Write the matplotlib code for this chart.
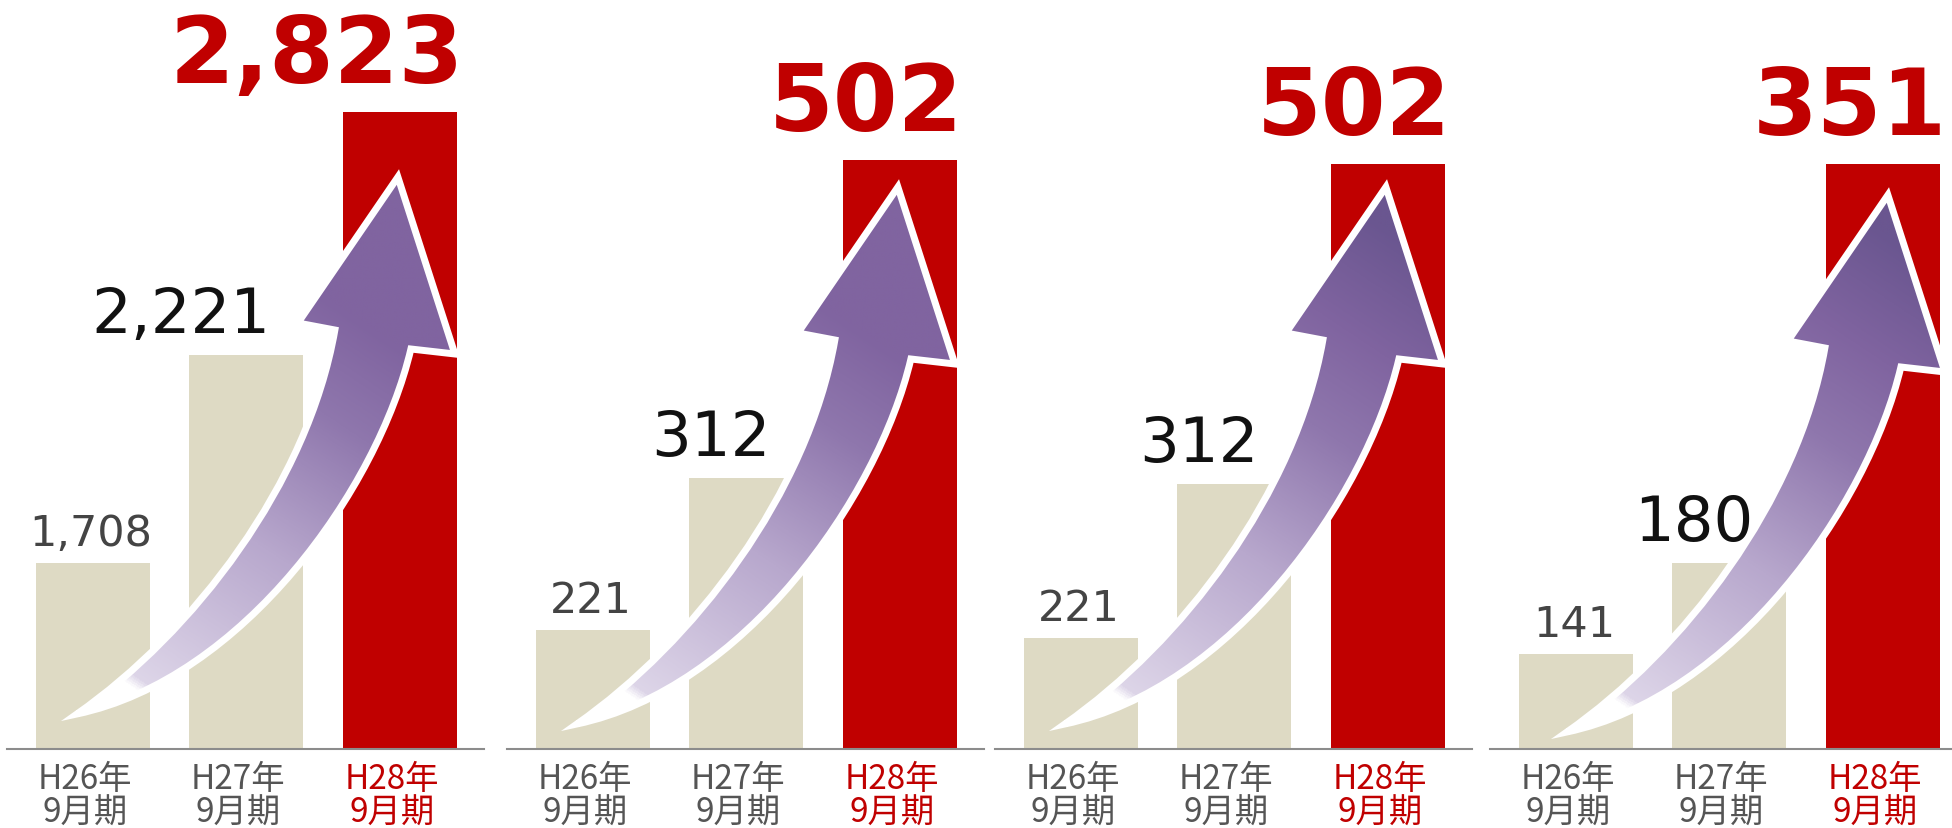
import numpy as np
import matplotlib
matplotlib.use("Agg")
import matplotlib.pyplot as plt
from matplotlib.path import Path
from matplotlib.patches import PathPatch
from matplotlib.colors import LinearSegmentedColormap
from matplotlib.transforms import ScaledTranslation

# data
periods = ["H26年\n9月期", "H27年\n9月期", "H28年\n9月期"]
panel1 = [1708, 2221, 2823]
panel2 = [221, 312, 502]
panel3 = [221, 312, 502]
panel4 = [141, 180, 351]
panels = [panel1, panel2, panel3, panel4]

# per-panel value axis range (the bars do not start at zero)
y_floor = [1248, 150, 155, 100]
y_ceil = [3102, 598, 600, 422]

BEIGE = "#dedac4"
RED = "#c00000"
GRAY_TXT = "#555555"
CJK = ["Noto Sans CJK JP", "DejaVu Sans"]

W, H = 1952, 829
fig = plt.figure(figsize=(W / 100, H / 100), dpi=100)

lefts_px = [7, 507, 995, 1490]
base_px = 79
ax_w, ax_h = 477, 750
bar_w = 0.743
pt = 0.72  # points per pixel at dpi 100

axes = []
for p, vals in enumerate(panels):
    ax = fig.add_axes([lefts_px[p] / W, base_px / H, ax_w / W, ax_h / H])
    ax.bar(range(3), vals, width=bar_w, color=[BEIGE, BEIGE, RED], zorder=2)
    ax.set_xlim(-0.56, 2.55)
    ax.set_ylim(y_floor[p], y_ceil[p])
    for s in ["top", "right", "left"]:
        ax.spines[s].set_visible(False)
    ax.spines["bottom"].set_color("#8c8c8c")
    ax.spines["bottom"].set_linewidth(1.5)
    ax.set_yticks([])
    ax.set_xticks(range(3))
    ax.set_xticklabels(periods, fontfamily=CJK, fontsize=24, linespacing=0.95)
    ax.tick_params(axis="x", length=0, pad=9)
    shift = ScaledTranslation(-8 / 100, 0, fig.dpi_scale_trans)
    for i, lab in enumerate(ax.get_xticklabels()):
        lab.set_color(RED if i == 2 else GRAY_TXT)
        lab.set_transform(lab.get_transform() + shift)

    # value labels
    ax.annotate(f"{vals[0]:,}", xy=(0, vals[0]), xytext=(-2 * pt, 18 * pt),
                textcoords="offset points", ha="center", va="baseline",
                fontsize=31, color="#444444")
    ax.annotate(f"{vals[1]:,}", xy=(1 + bar_w / 2, vals[1]), xytext=(-33 * pt, 23 * pt),
                textcoords="offset points", ha="right", va="baseline",
                fontsize=45, color="#111111")
    ax.annotate(f"{vals[2]:,}", xy=(2 + bar_w / 2, vals[2]), xytext=(7 * pt, 30 * pt),
                textcoords="offset points", ha="right", va="baseline",
                fontsize=67, fontweight="bold", color=RED)
    axes.append(ax)

# overlay for the decorative rising arrows (pixel coordinates)
ov = fig.add_axes([0, 0, 1, 1], zorder=5)
ov.set_xlim(0, W)
ov.set_ylim(0, H)
ov.axis("off")

# arrow outline relative to first bar centre / baseline, in pixels
T = (-16, 25)
arrow_verts = [T, (100, 106), (215, 255), (242, 409),
               (205, 416), (305, 562), (362, 385), (318, 390),
               (285, 250), (150, 60), T, T]
arrow_codes = [Path.MOVETO, Path.CURVE4, Path.CURVE4, Path.CURVE4,
               Path.LINETO, Path.LINETO, Path.LINETO, Path.LINETO,
               Path.CURVE4, Path.CURVE4, Path.CURVE4, Path.CLOSEPOLY]
arrow_dx = [0, 0, 0, 7]
arrow_dy = [10, 0, 0, -8]
tip_colors = ["#8064a0", "#8064a0", "#6a5690", "#6a5690"]

fig.canvas.draw()
for p, ax in enumerate(axes):
    cx, _ = ax.transData.transform((0, y_floor[p]))
    cx += arrow_dx[p]
    cy = base_px + arrow_dy[p]
    verts = np.array(arrow_verts, float) + [cx, cy]
    path = Path(verts, arrow_codes)

    # white tail, then light lavender to purple towards the head
    lo = -0.12
    def pos(v):
        return (v - lo) / (1 - lo)
    cmap = LinearSegmentedColormap.from_list(
        "arr", [(0.0, "white"), (pos(0.0), "white"), (pos(0.02), "#ddd5e8"),
                (pos(0.35), "#b8a8cd"), (pos(0.62), "#8f77ad"),
                (pos(0.8), "#8064a0"), (1.0, tip_colors[p])])
    x0, x1 = verts[:, 0].min() - 5, verts[:, 0].max() + 5
    y0, y1 = verts[:, 1].min() - 5, verts[:, 1].max() + 5
    gx, gy = np.meshgrid(np.linspace(x0, x1, 400), np.linspace(y0, y1, 500))
    a = np.array([cx + 40, cy + 50])
    d = np.array([300.0, 450.0])
    t = ((gx - a[0]) * d[0] + (gy - a[1]) * d[1]) / (d @ d)
    t = np.clip(t, lo, 1)

    clip = PathPatch(path, facecolor="none", edgecolor="none")
    ov.add_patch(clip)
    im = ov.imshow(t, extent=[x0, x1, y0, y1], origin="lower", cmap=cmap,
                   vmin=lo, vmax=1, aspect="auto", interpolation="bilinear", zorder=3)
    im.set_clip_path(clip)
    ov.add_patch(PathPatch(path, facecolor="none", edgecolor="white", lw=5,
                           joinstyle="miter", zorder=4))

ov.set_xlim(0, W)
ov.set_ylim(0, H)

fig.savefig("out.png", dpi=100, facecolor="white")
